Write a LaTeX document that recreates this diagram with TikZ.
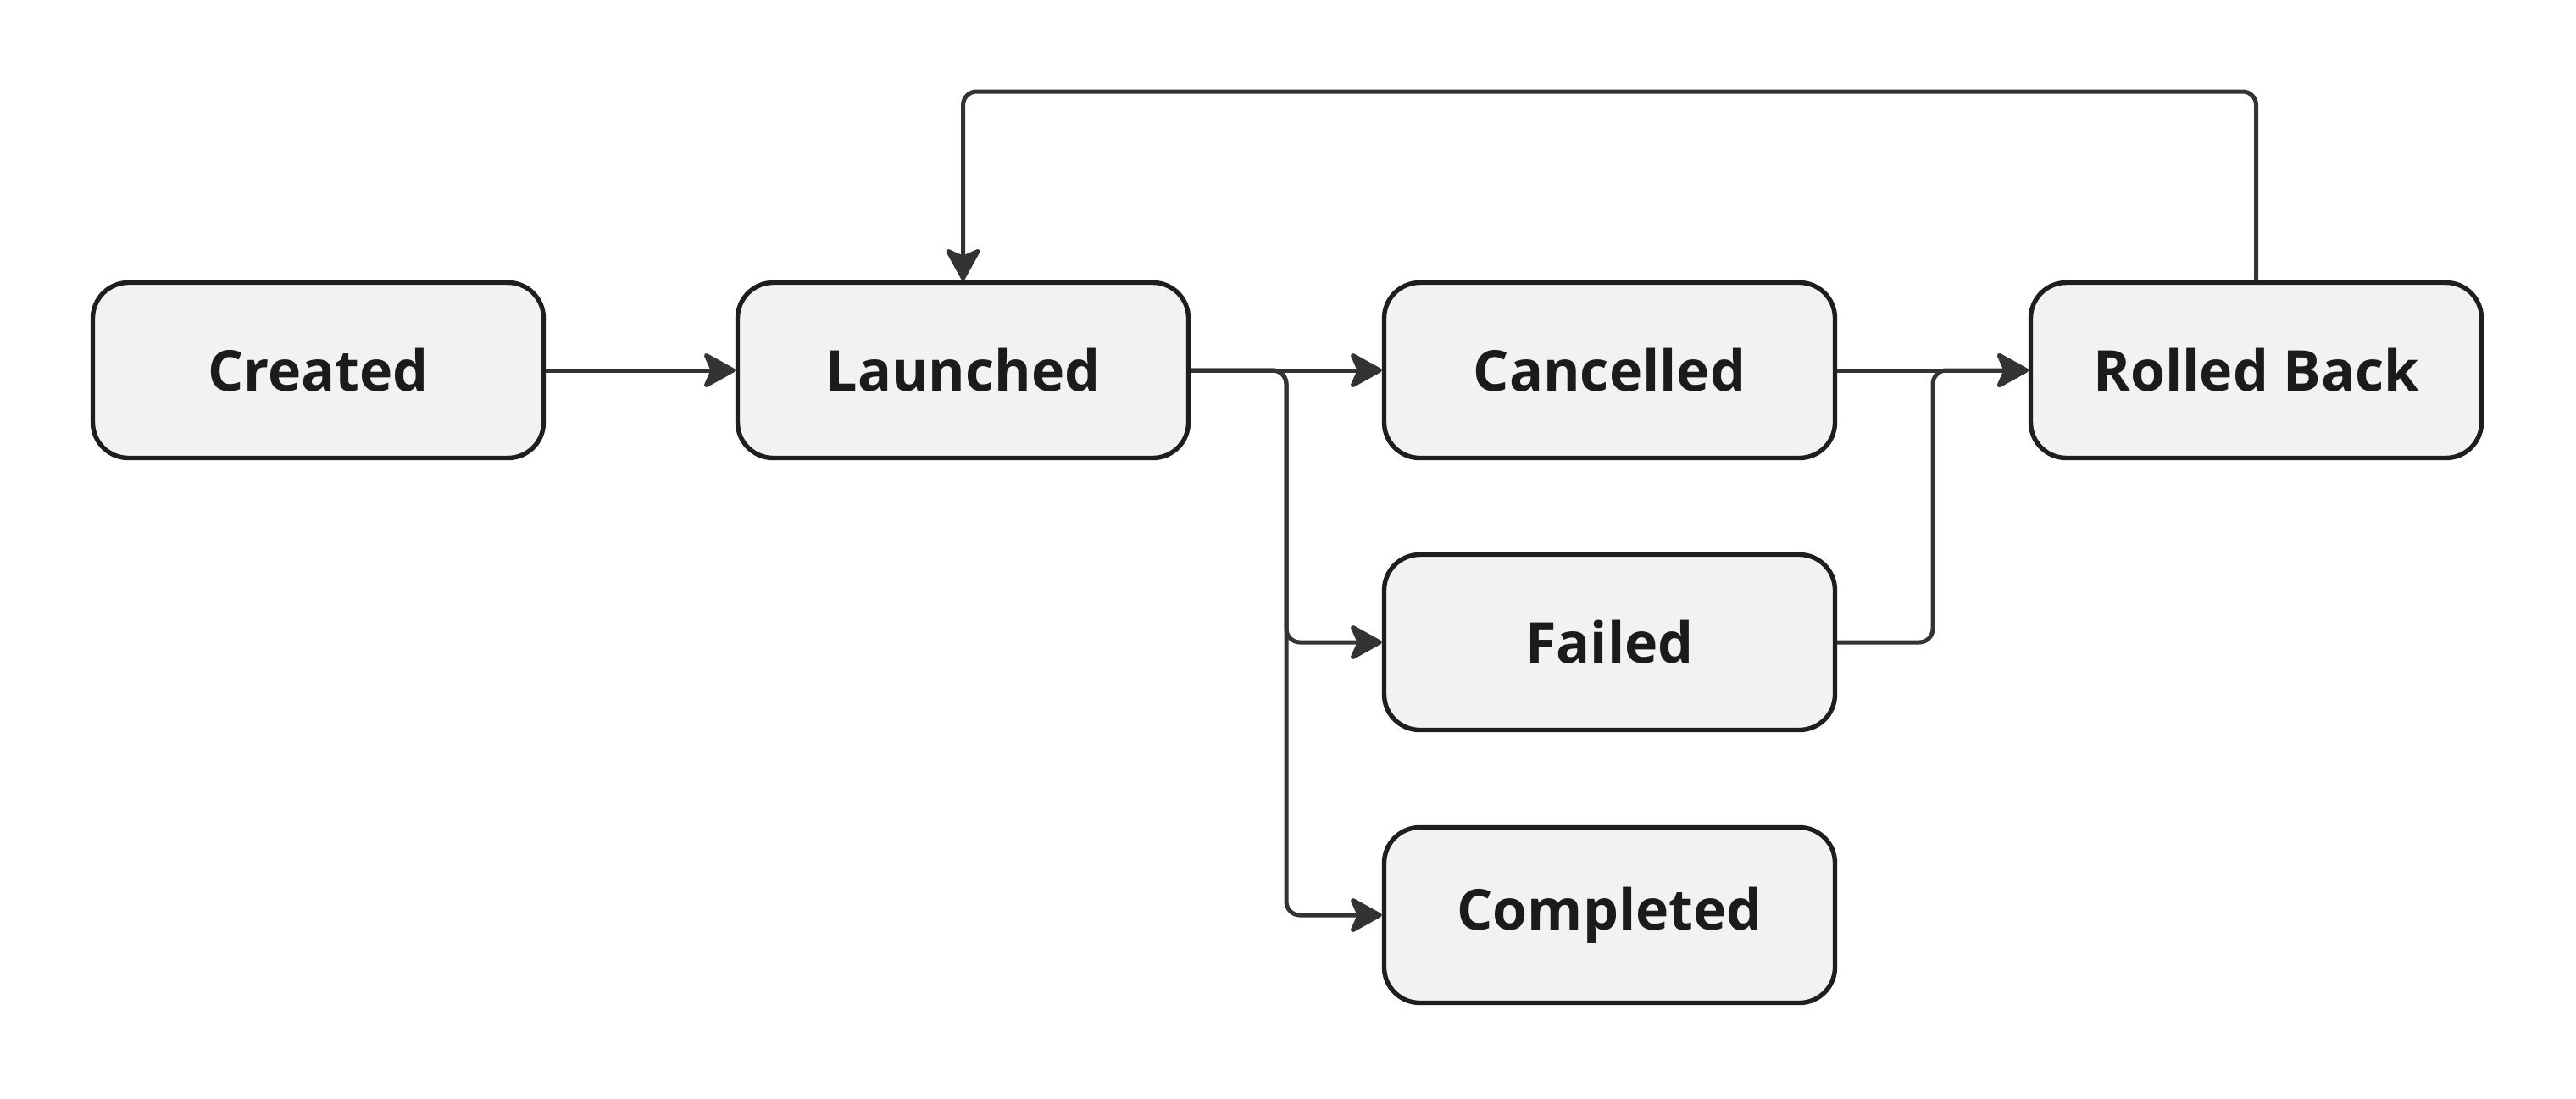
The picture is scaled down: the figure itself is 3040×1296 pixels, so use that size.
\documentclass[tikz,border=0pt]{standalone}
\usepackage{fontspec}
\setmainfont{Open Sans}
\usetikzlibrary{arrows.meta}
\definecolor{nodefill}{HTML}{F2F2F2}
\definecolor{nodeline}{HTML}{1E1E1E}
\definecolor{edgeline}{HTML}{333333}
\definecolor{txt}{HTML}{1B1B1B}
\tikzset{
  state/.style={draw=nodeline, fill=nodefill, line width=1.35pt, rounded corners=10.5pt,
    minimum width=133pt, minimum height=51.75pt, inner sep=0pt,
    text=txt, font=\fontsize{16.6pt}{20pt}\selectfont\bfseries},
  arr/.style={draw=edgeline, line width=1.25pt, rounded corners=4pt,
    -{Stealth[length=10.5pt, width=11.5pt, inset=2.5pt, round]}}
}
\begin{document}
\begin{tikzpicture}[x=0.25pt, y=-0.25pt]
\useasboundingbox (0,0) rectangle (3040,1296);
\node[state] (created) at (375.5,437) {Created};
\node[state] (launched) at (1136.5,437) {Launched};
\node[state] (cancelled) at (1899.5,437) {Cancelled};
\node[state] (rolled) at (2662.5,437) {Rolled Back};
\node[state] (failed) at (1899.5,758) {Failed};
\node[state] (completed) at (1899.5,1080) {Completed};
\coordinate (j1) at (1518,437);
\coordinate (j2) at (2281,437);
\coordinate (top) at (1900,108);
\draw[arr] (created) -- (launched);
\draw[arr] (launched) -- (cancelled);
\draw[arr] (launched.east) -- (j1) |- (failed.west);
\draw[arr] (launched.east) -- (j1) |- (completed.west);
\draw[arr] (cancelled) -- (rolled);
\draw[arr] (failed.east) -| (j2) -- (rolled.west);
\draw[arr] (rolled.north) |- (top) -| (launched.north);
\end{tikzpicture}
\end{document}
